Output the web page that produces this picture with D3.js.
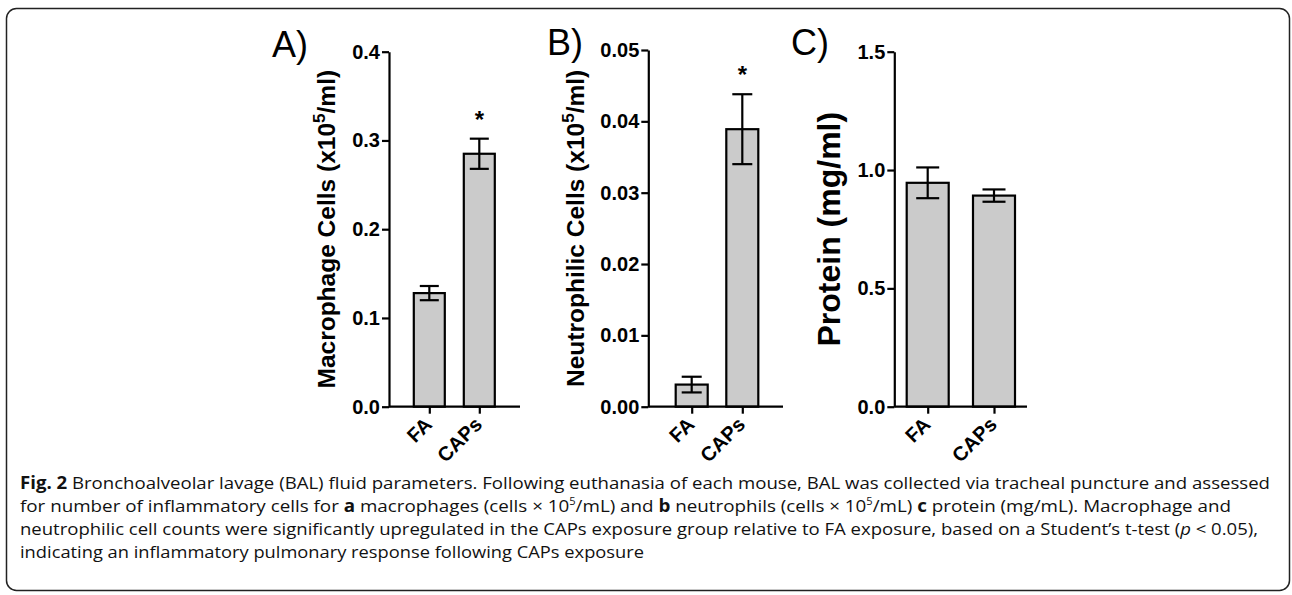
<!DOCTYPE html>
<html>
<head>
<meta charset="utf-8">
<script src="https://cdn.jsdelivr.net/npm/d3@7"></script>
<style>
  html, body { margin: 0; padding: 0; background: #fff; }
  svg { display: block; }
</style>
</head>
<body>
<svg id="chart" width="1292" height="595"></svg>
<script>
// groups on the x axis
var groups = ["FA", "CAPs"];

// A) macrophages (x10^5/ml)
var macrophageMean = [0.128, 0.285];
var macrophageSem = [0.008, 0.017];
var macrophageTicks = [0.0, 0.1, 0.2, 0.3, 0.4];

// B) neutrophils (x10^5/ml)
var neutrophilMean = [0.0031, 0.0389];
var neutrophilSem = [0.0011, 0.0049];
var neutrophilTicks = [0.00, 0.01, 0.02, 0.03, 0.04, 0.05];

// C) protein (mg/ml)
var proteinMean = [0.946, 0.892];
var proteinSem = [0.065, 0.026];
var proteinTicks = [0.0, 0.5, 1.0, 1.5];

// significance marks (Student's t-test p < 0.05)
var macrophageSig = [false, true];
var neutrophilSig = [false, true];
var proteinSig = [false, false];

var FONT = "'Liberation Sans', Arial, sans-serif";

var svg = d3.select("#chart");

// rounded frame round the whole figure
svg.append("rect")
	.attr("x", 6.5)
	.attr("y", 8.5)
	.attr("width", 1283)
	.attr("height", 582)
	.attr("rx", 10)
	.attr("fill", "none")
	.attr("stroke", "#222")
	.attr("stroke-width", 1.5);

function drawPanel(p) {
	var y = d3.scaleLinear()
		.domain([0, d3.max(p.ticks)])
		.range([p.bottom, p.top]);

	var x = d3.scalePoint()
		.domain(groups)
		.range([p.c1, p.c2]);

	var g = svg.append("g");

	var rows = groups.map(function(k, i) {
		return { key: k, mean: p.mean[i], sem: p.sem[i], sig: p.sig[i] };
	});

	// bars
	g.selectAll("rect.bar")
		.data(rows)
		.enter().append("rect")
		.attr("class", "bar")
		.attr("x", function(d) { return x(d.key) - p.barWidth / 2; })
		.attr("y", function(d) { return y(d.mean); })
		.attr("width", p.barWidth)
		.attr("height", function(d) { return y(0) - y(d.mean); })
		.attr("fill", "#cbcbcb")
		.attr("stroke", "#000")
		.attr("stroke-width", 2.2);

	// error bars
	var err = g.selectAll("g.err")
		.data(rows)
		.enter().append("g")
		.attr("class", "err")
		.attr("stroke", "#000")
		.attr("stroke-width", 2.2);
	err.append("line")
		.attr("x1", function(d) { return x(d.key); })
		.attr("x2", function(d) { return x(d.key); })
		.attr("y1", function(d) { return y(d.mean + d.sem); })
		.attr("y2", function(d) { return y(d.mean - d.sem); });
	[1, -1].forEach(function(s) {
		err.append("line")
			.attr("x1", function(d) { return x(d.key) - p.capWidth / 2; })
			.attr("x2", function(d) { return x(d.key) + p.capWidth / 2; })
			.attr("y1", function(d) { return y(d.mean + s * d.sem); })
			.attr("y2", function(d) { return y(d.mean + s * d.sem); });
	});

	// significance stars
	g.selectAll("text.star")
		.data(rows.filter(function(d) { return d.sig; }))
		.enter().append("text")
		.attr("class", "star")
		.attr("x", function(d) { return x(d.key); })
		.attr("y", function(d) { return y(d.mean + d.sem) - 11; })
		.attr("text-anchor", "middle")
		.attr("font-family", FONT)
		.attr("font-weight", "bold")
		.attr("font-size", 24)
		.text("*");

	// y axis
	var yAxis = g.append("g")
		.attr("transform", "translate(" + p.axisX + ",0)")
		.call(d3.axisLeft(y)
			.tickValues(p.ticks)
			.tickFormat(d3.format(p.format))
			.tickSize(7)
			.tickSizeOuter(0)
			.tickPadding(2));
	yAxis.select(".domain").attr("stroke-width", 2.2);
	yAxis.selectAll(".tick line").attr("stroke-width", 2.2);
	yAxis.selectAll(".tick text")
		.attr("font-family", FONT)
		.attr("font-weight", "bold")
		.attr("font-size", 20)
		.attr("fill", "#000");

	// x axis: baseline + small ticks under the bars
	var xAxis = g.append("g")
		.attr("transform", "translate(0," + p.bottom + ")")
		.call(d3.axisBottom(x).tickSize(7).tickSizeOuter(0).tickFormat(""));
	xAxis.select(".domain").remove();
	xAxis.selectAll(".tick line").attr("stroke-width", 2.2);
	g.append("line")
		.attr("x1", p.axisX)
		.attr("x2", p.axisEnd)
		.attr("y1", p.bottom)
		.attr("y2", p.bottom)
		.attr("stroke", "#000")
		.attr("stroke-width", 2.2);

	// rotated group labels
	g.selectAll("text.xlab")
		.data(groups)
		.enter().append("text")
		.attr("class", "xlab")
		.attr("transform", function(d) {
			return "translate(" + (x(d) + 4) + "," + (p.bottom + 19) + ") rotate(-45)";
		})
		.attr("text-anchor", "end")
		.attr("font-family", FONT)
		.attr("font-weight", "bold")
		.attr("font-size", 20)
		.text(function(d) { return d; });

	// y axis title
	var t = g.append("text")
		.attr("transform", "translate(" + p.titleX + "," + ((p.top + p.bottom) / 2) + ") rotate(-90)")
		.attr("text-anchor", "middle")
		.attr("font-family", FONT)
		.attr("font-weight", "bold")
		.attr("font-size", p.titleSize);
	t.append("tspan").text(p.title[0]);
	if (p.title.length > 1) {
		t.append("tspan").attr("dy", -p.titleSize * 0.4).attr("font-size", p.titleSize * 0.7).text(p.title[1]);
		t.append("tspan").attr("dy", p.titleSize * 0.4).text(p.title[2]);
	}

	// panel letter
	g.append("text")
		.attr("x", p.letterX)
		.attr("y", p.letterY)
		.attr("font-family", FONT)
		.attr("font-size", 36)
		.text(p.letter);
}

drawPanel({
	letter: "A)", letterX: 272, letterY: 57,
	mean: macrophageMean, sem: macrophageSem, sig: macrophageSig,
	ticks: macrophageTicks, format: ".1f",
	top: 51.7, bottom: 406.7, axisX: 389, axisEnd: 520,
	c1: 429.3, c2: 479.3, barWidth: 31, capWidth: 19,
	title: ["Macrophage Cells (x10", "5", "/ml)"], titleX: 335, titleSize: 24.5
});

drawPanel({
	letter: "B)", letterX: 547, letterY: 55,
	mean: neutrophilMean, sem: neutrophilSem, sig: neutrophilSig,
	ticks: neutrophilTicks, format: ".2f",
	top: 50, bottom: 406.7, axisX: 648.3, axisEnd: 783,
	c1: 691.7, c2: 742.3, barWidth: 32, capWidth: 20,
	title: ["Neutrophilic Cells (x10", "5", "/ml)"], titleX: 584, titleSize: 24.5
});

drawPanel({
	letter: "C)", letterX: 791, letterY: 55,
	mean: proteinMean, sem: proteinSem, sig: proteinSig,
	ticks: proteinTicks, format: ".1f",
	top: 51.7, bottom: 406.7, axisX: 894.3, axisEnd: 1027,
	c1: 927.7, c2: 994, barWidth: 42, capWidth: 23,
	title: ["Protein (mg/ml)"], titleX: 840, titleSize: 32
});

// caption
var captionLeft = 20;
var captionLines = [
	{ end: 1270, parts: [["Fig. 2", "b"], [" Bronchoalveolar lavage (BAL) fluid parameters. Following euthanasia of each mouse, BAL was collected via tracheal puncture and assessed"]] },
	{ end: 1231, parts: [["for number of inflammatory cells for "], ["a", "b"], [" macrophages (cells \u00d7 10"], ["5", "sup"], ["/mL) and "], ["b", "b"], [" neutrophils (cells \u00d7 10"], ["5", "sup"], ["/mL) "], ["c", "b"], [" protein (mg/mL). Macrophage and"]] },
	{ end: 1258, parts: [["neutrophilic cell counts were significantly upregulated in the CAPs exposure group relative to FA exposure, based on a Student\u2019s t-test ("], ["p", "i"], [" < 0.05),"]] },
	{ end: 644, parts: [["indicating an inflammatory pulmonary response following CAPs exposure"]] }
];

captionLines.forEach(function(line, i) {
	var txt = svg.append("text")
		.attr("x", captionLeft)
		.attr("y", 489 + i * 23)
		.attr("font-family", "'Open Sans', 'Noto Sans', sans-serif")
		.attr("font-size", 17)
		.attr("fill", "#111")
		.attr("textLength", line.end - captionLeft)
		.attr("lengthAdjust", "spacingAndGlyphs");
	var shifted = false;
	line.parts.forEach(function(pt) {
		var ts = txt.append("tspan").text(pt[0]);
		if (pt[1] === "b") ts.attr("font-weight", "bold");
		if (pt[1] === "i") ts.attr("font-style", "italic");
		if (pt[1] === "sup") {
			ts.attr("dy", -7).attr("font-size", 10);
			shifted = true;
		} else if (shifted) {
			ts.attr("dy", 7);
			shifted = false;
		}
	});
});
</script>
</body>
</html>
